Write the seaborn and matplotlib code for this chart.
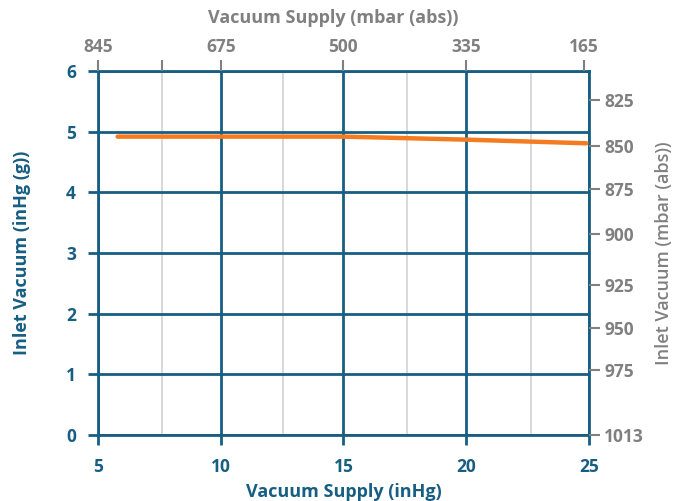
import matplotlib
matplotlib.use("Agg")
import matplotlib.pyplot as plt
import seaborn as sns
import pandas as pd

# data
supply_inhg = [5.8, 10, 15, 20, 24.9]
inlet_inhg = [4.92, 4.92, 4.92, 4.87, 4.81]

bottom_ticks = [5, 10, 15, 20, 25]
left_ticks = [0, 1, 2, 3, 4, 5, 6]
top_tick_pos = [5, 10, 15, 20, 24.8]
top_tick_labels = ["845", "675", "500", "335", "165"]
right_tick_pos = [5.52, 4.76, 4.05, 3.31, 2.47, 1.76, 1.07, 0.0]
right_tick_labels = ["825", "850", "875", "900", "925", "950", "975", "1013"]
minor_grid_x = [7.6, 12.55, 17.6, 22.65]

BLUE = "#175E82"
ORANGE = "#F47B20"
GREY = "#808080"
LGREY = "#D6D6D6"

sns.set_style("white")
plt.rcParams["font.family"] = ["Open Sans", "DejaVu Sans"]

fig = plt.figure(figsize=(6.76, 5.01), dpi=100)
ax = fig.add_axes([0.145, 0.132, 0.726, 0.726])

df = pd.DataFrame({"supply": supply_inhg, "inlet": inlet_inhg})
sns.lineplot(data=df, x="supply", y="inlet", ax=ax, color=ORANGE, linewidth=3.2,
             solid_capstyle="round", zorder=5)

LBL = 13
TCK = 12.5

ax.set_xlim(5, 25)
ax.set_ylim(0, 6)
ax.set_xticks(bottom_ticks)
ax.set_yticks(left_ticks)
ax.set_xticks(minor_grid_x, minor=True)
ax.grid(True, which="major", color=BLUE, linewidth=2, zorder=1)
ax.grid(True, which="minor", axis="x", color=LGREY, linewidth=1.3, zorder=0)
ax.set_axisbelow(True)
ax.tick_params(axis="both", which="major", colors=BLUE, length=7, width=2,
               labelsize=TCK)
ax.tick_params(axis="x", which="major", pad=10)
ax.tick_params(axis="y", which="major", pad=9)
ax.tick_params(axis="x", which="minor", length=0)
for lab in ax.get_xticklabels() + ax.get_yticklabels():
    lab.set_fontweight("bold")
    lab.set_color(BLUE)
for s in ax.spines.values():
    s.set_color(BLUE)
    s.set_linewidth(2)
ax.set_xlabel("Vacuum Supply (inHg)", color=BLUE, fontsize=LBL, fontweight="bold", labelpad=5)
ax.set_ylabel("Inlet Vacuum (inHg (g))", color=BLUE, fontsize=LBL, fontweight="bold", labelpad=25)

# top axis
axt = ax.twiny()
axt.set_xlim(5, 25)
axt.set_xticks(top_tick_pos)
axt.set_xticklabels(top_tick_labels)
axt.set_xticks([7.6], minor=True)
axt.tick_params(axis="x", which="both", colors=GREY, length=8, width=1.5, labelsize=TCK, pad=3)
for lab in axt.get_xticklabels():
    lab.set_fontweight("bold")
axt.set_xlabel("Vacuum Supply (mbar (abs))", color=GREY, fontsize=LBL, fontweight="bold")
axt.xaxis.set_label_coords(0.48, 1.146)
axt.xaxis.label.set_verticalalignment("center")
for s in axt.spines.values():
    s.set_visible(False)

# right axis
axr = ax.twinx()
axr.set_ylim(0, 6)
axr.set_yticks(right_tick_pos)
axr.set_yticklabels(right_tick_labels)
axr.tick_params(axis="y", colors=GREY, length=8, width=1.5, labelsize=TCK, pad=3)
for lab in axr.get_yticklabels():
    lab.set_fontweight("bold")
axr.set_ylabel("Inlet Vacuum (mbar (abs))", color=GREY, fontsize=LBL, fontweight="semibold", labelpad=8)
for s in axr.spines.values():
    s.set_visible(False)

fig.savefig("out.png", dpi=100)
